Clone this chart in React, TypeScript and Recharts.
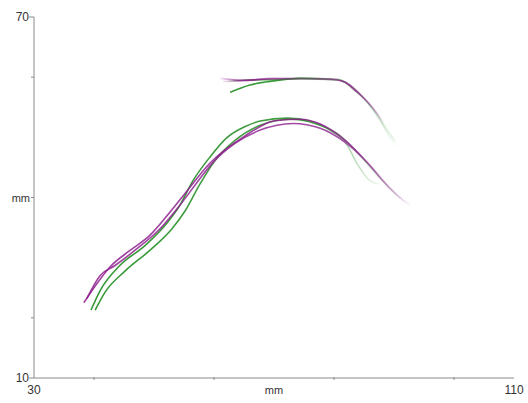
import React from "react";
import { LineChart, Line, XAxis, YAxis } from "recharts";

// x, y pairs (mm)
const lowGreenA = [
  [39.5, 21.3], [41, 24.5], [44.3, 28.7], [48.5, 32], [52.2, 35.8], [54.3, 38.7],
  [56.5, 42.8], [59.3, 46.7], [62.2, 50], [65.2, 51.8], [67.7, 52.7], [72.2, 53.2],
  [76, 52.7], [79.3, 51.2], [82.2, 48.7], [83.8, 45.7], [86, 42.8], [87.7, 42.2],
];
const lowGreenB = [
  [40.2, 21.3], [41.8, 24.2], [45.2, 27.8], [49.3, 31.2], [53, 34.8], [55.2, 37.8],
  [57.7, 42.3], [60.2, 46.2], [63.5, 49.5], [67.7, 52], [72.7, 53], [76.8, 52.3],
  [81, 50.3], [84.3, 47], [87.7, 43.2], [91, 39.8],
];
const lowPurpleA = [
  [38.3, 22.5], [40.2, 25.3], [42.7, 28.5], [46, 31.2], [49.3, 33.7], [52.2, 37],
  [55.2, 40.7], [59.3, 45.7], [64.8, 50], [70.5, 52.8], [74.3, 53], [77.7, 52.2],
  [82.2, 49.2], [86, 45.3], [89.3, 41.5], [92.7, 38.7],
];
const lowPurpleB = [
  [38.8, 23.2], [41, 27], [43.5, 28.7], [46.8, 31.2], [51, 34.8], [54.3, 38.7],
  [57.7, 43.2], [59.8, 45.8], [63.5, 49], [67.7, 51.2], [73.2, 52.3], [77.7, 51.5],
  [81.8, 49.2], [85.2, 46.2], [88.5, 42.5], [91.8, 39.2],
];
const upPurpleA = [
  [61, 59.8], [64.3, 59.5], [69.3, 59.7], [74.3, 59.8], [79.3, 59.7], [81.8, 59.2],
  [83.5, 57.8], [85.7, 55.8], [87.7, 53.3], [88.5, 52],
];
const upPurpleB = [
  [61.5, 59.3], [65, 59.4], [70, 59.8], [75, 59.7], [80, 59.6], [82.3, 58.9],
  [84.5, 57], [86.5, 54.8], [88.2, 52.4],
];
const upGreenA = [
  [62.7, 57.5], [66, 58.7], [69.3, 59.3], [74.3, 59.8], [81, 59.5], [83, 58.2],
  [85.2, 56.2], [87.7, 52.8], [89.3, 50], [91, 48.3],
];
const upGreenB = [
  [61.8, 59.2], [65, 59.5], [70, 59.6], [75, 59.8], [80.5, 59.7], [82.8, 58.6],
  [85, 56.5], [87.2, 53.8], [89, 51], [90.2, 49.4],
];

const xTicks = [30, 40, 60, 70, 80, 100, 110];
const yTicks = [10, 20, 40, 60, 70];
const axisName = "mm";

const GREEN = "#1f8c1f";
const PURPLE = "#8e1f8e";
const AXIS = "#8a8a8a";
const TEXT = "#333";

const toRows = (pts: number[][]) => pts.map(([x, y]) => ({ x, y }));

const series = [
  { id: "lg1", pts: lowGreenA, color: GREEN, stops: [[0, 0.9], [0.72, 0.85], [1, 0.05]] },
  { id: "lg2", pts: lowGreenB, color: GREEN, stops: [[0, 0.9], [0.7, 0.8], [1, 0.05]] },
  { id: "lp1", pts: lowPurpleA, color: PURPLE, stops: [[0, 0.85], [0.8, 0.85], [1, 0.05]] },
  { id: "lp2", pts: lowPurpleB, color: PURPLE, stops: [[0, 0.85], [0.78, 0.8], [1, 0.05]] },
  { id: "ug1", pts: upGreenA, color: GREEN, stops: [[0, 0.9], [0.45, 0.85], [0.7, 0.4], [1, 0]] },
  { id: "ug2", pts: upGreenB, color: GREEN, stops: [[0, 0], [0.15, 0.8], [0.5, 0.5], [1, 0.1]] },
  { id: "up1", pts: upPurpleA, color: PURPLE, stops: [[0, 0.1], [0.12, 0.8], [0.5, 0.3], [0.8, 0.7], [1, 0]] },
  { id: "up2", pts: upPurpleB, color: PURPLE, stops: [[0, 0.1], [0.2, 0.7], [0.55, 0.2], [0.85, 0.6], [1, 0]] },
];

const font = { fontFamily: "'Liberation Sans', Arial, sans-serif", fontSize: 12, fill: TEXT };

function XTick({ x, y, payload }: any) {
  const v = payload.value;
  if (v === 30 || v === 110) {
    return (
      <text x={x} y={y + 16} textAnchor="middle" {...font}>
        {v}
      </text>
    );
  }
  if (v === 70) {
    return (
      <text x={x} y={y + 16} textAnchor="middle" {...font} fontSize={11}>
        {axisName}
      </text>
    );
  }
  return <line x1={x} x2={x} y1={y - 1} y2={y + 2} stroke={AXIS} />;
}

function YTick({ x, y, payload }: any) {
  const v = payload.value;
  if (v === 10 || v === 70) {
    return (
      <g>
        <line x1={x - 5} x2={x} y1={y} y2={y} stroke={AXIS} />
        <text x={x - 5} y={y + 4} textAnchor="end" {...font}>
          {v}
        </text>
      </g>
    );
  }
  if (v === 40) {
    return (
      <g>
        <line x1={x - 3} x2={x} y1={y} y2={y} stroke={AXIS} />
        <text x={x - 4} y={y + 4} textAnchor="end" {...font} fontSize={11}>
          {axisName}
        </text>
      </g>
    );
  }
  return <line x1={x - 3} x2={x} y1={y} y2={y} stroke={AXIS} />;
}

export default function App() {
  return (
    <div style={{ position: "absolute", left: 0, top: 0, background: "#fff" }}>
      <LineChart width={528} height={403} margin={{ top: 17, right: 14, left: 0, bottom: 0 }}>
        <defs>
          {series.map((s) => (
            <linearGradient key={s.id} id={`g-${s.id}`} x1="0" y1="0" x2="1" y2="0">
              {s.stops.map(([o, a], i) => (
                <stop key={i} offset={o} stopColor={s.color} stopOpacity={a} />
              ))}
            </linearGradient>
          ))}
        </defs>
        <XAxis
          type="number"
          dataKey="x"
          domain={[30, 110]}
          ticks={xTicks}
          interval={0}
          height={25}
          tickSize={0}
          tickMargin={0}
          tickLine={false}
          axisLine={{ stroke: AXIS }}
          tick={<XTick />}
          allowDataOverflow
        />
        <YAxis
          type="number"
          domain={[10, 70]}
          ticks={yTicks}
          interval={0}
          width={34}
          tickSize={0}
          tickMargin={0}
          tickLine={false}
          axisLine={{ stroke: AXIS }}
          tick={<YTick />}
          allowDataOverflow
        />
        {series.map((s) => (
          <Line
            key={s.id}
            data={toRows(s.pts)}
            dataKey="y"
            type="monotone"
            stroke={`url(#g-${s.id})`}
            strokeWidth={1.6}
            dot={false}
            activeDot={false}
            isAnimationActive={false}
          />
        ))}
      </LineChart>
    </div>
  );
}
